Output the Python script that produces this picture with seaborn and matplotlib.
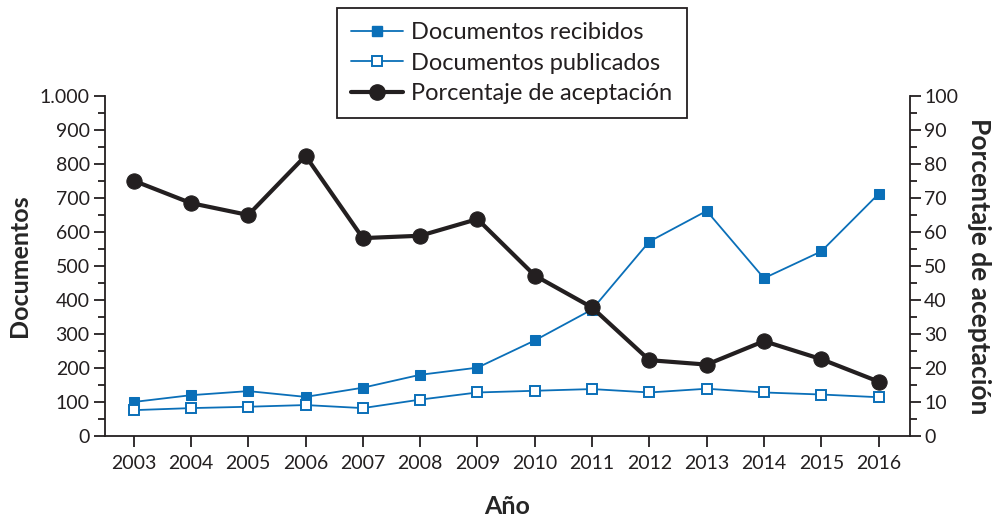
import matplotlib
matplotlib.use("Agg")
import matplotlib.pyplot as plt
from matplotlib.ticker import MultipleLocator, FuncFormatter
from matplotlib.lines import Line2D
import seaborn as sns
import pandas as pd

# data
anos = [2003, 2004, 2005, 2006, 2007, 2008, 2009, 2010, 2011, 2012, 2013, 2014, 2015, 2016]
recibidos = [100, 120, 132, 115, 142, 180, 201, 281, 372, 572, 662, 464, 543, 712]
publicados = [76, 82, 86, 91, 82, 107, 128, 133, 138, 128, 139, 128, 122, 114]
aceptacion = [75.1, 68.5, 65.0, 82.4, 58.2, 58.9, 63.8, 47.2, 37.8, 22.3, 21.0, 27.9, 22.6, 16.0]

azul = "#0a6fb8"
negro = "#231f20"

sns.set_style("ticks")
plt.rcParams["font.family"] = ["Lato", "DejaVu Sans"]
plt.rcParams["axes.edgecolor"] = negro
plt.rcParams["axes.linewidth"] = 1.3
plt.rcParams["xtick.color"] = negro
plt.rcParams["ytick.color"] = negro
plt.rcParams["text.color"] = negro

df = pd.DataFrame({"Año": anos, "recibidos": recibidos,
                   "publicados": publicados, "aceptacion": aceptacion})

fig = plt.figure(figsize=(9.94, 5.17), dpi=100)
ax = fig.add_axes([0.1056, 0.1567, 0.81, 0.6576])
ax2 = ax.twinx()

sns.lineplot(data=df, x="Año", y="recibidos", ax=ax, color=azul, lw=1.3,
             marker="s", markersize=7, markerfacecolor=azul, markeredgecolor=azul)
sns.lineplot(data=df, x="Año", y="publicados", ax=ax, color=azul, lw=1.3,
             marker="s", markersize=7, markerfacecolor="white",
             markeredgecolor=azul, markeredgewidth=1.4)
sns.lineplot(data=df, x="Año", y="aceptacion", ax=ax2, color=negro, lw=3,
             marker="o", markersize=11, markerfacecolor=negro, markeredgecolor=negro)

ax.set_xlim(2002.5, 2016.55)
ax.set_ylim(0, 1000)
ax2.set_ylim(0, 100)
ax.set_xticks(anos)
ax.set_xticklabels([str(a) for a in anos])
ax.yaxis.set_major_locator(MultipleLocator(100))
ax.yaxis.set_minor_locator(MultipleLocator(50))
ax2.yaxis.set_major_locator(MultipleLocator(10))
ax2.yaxis.set_minor_locator(MultipleLocator(5))
ax.yaxis.set_major_formatter(FuncFormatter(lambda v, p: f"{int(v):,}".replace(",", ".")))

for a in (ax, ax2):
    a.spines["top"].set_visible(False)
    a.tick_params(which="major", length=8, width=1.3, labelsize=14)
    a.tick_params(which="minor", length=5, width=1.3)
ax.spines["right"].set_visible(False)
ax2.spines["left"].set_visible(False)
ax2.spines["bottom"].set_visible(False)
ax.tick_params(axis="y", which="major", pad=3)
ax.tick_params(axis="x", pad=6)
ax2.tick_params(axis="y", which="major", pad=2)

ax.set_xlabel("Año", fontsize=18, fontweight="bold", labelpad=16)
ax.set_ylabel("Documentos", fontsize=18, fontweight="bold", labelpad=6)
ax2.set_ylabel("Porcentaje de aceptación", fontsize=19, fontweight="bold",
               rotation=270, labelpad=24)

handles = [
    Line2D([], [], color=azul, lw=1.3, marker="s", markersize=7,
           markerfacecolor=azul, markeredgecolor=azul),
    Line2D([], [], color=azul, lw=1.3, marker="s", markersize=7,
           markerfacecolor="white", markeredgecolor=azul, markeredgewidth=1.4),
    Line2D([], [], color=negro, lw=3, marker="o", markersize=11,
           markerfacecolor=negro, markeredgecolor=negro),
]
labels = ["Documentos recibidos", "Documentos publicados", "Porcentaje de aceptación"]
leg = fig.legend(handles, labels, loc="upper center", bbox_to_anchor=(0.515, 0.9845),
                 borderaxespad=0, fontsize=17, frameon=True, fancybox=False,
                 edgecolor=negro, framealpha=1, handlelength=2.2, handletextpad=0.35,
                 labelspacing=0.4, borderpad=0.6)
leg.get_frame().set_linewidth(1.3)

fig.savefig("out.png", dpi=100)
